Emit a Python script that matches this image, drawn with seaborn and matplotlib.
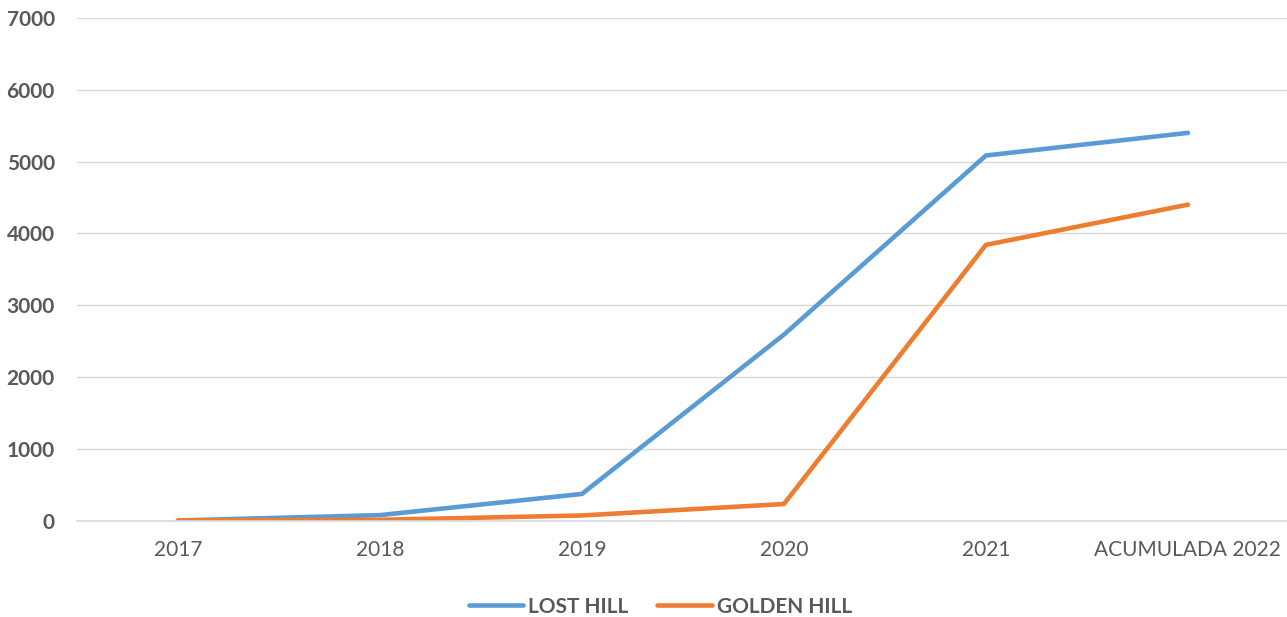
import pandas as pd
import numpy as np
import seaborn as sns
import matplotlib.pyplot as plt

years = ['2017', '2018', '2019', '2020', '2021', 'ACUMULADA 2022']
lost_hill = [0, 75, 370, 2590, 5085, 5400]
golden_hill = [0, 10, 70, 230, 3840, 4400]

sns.set_theme(style="white")
plt.rcParams['font.family'] = ['Lato', 'DejaVu Sans']

df = pd.DataFrame({
    'year': years * 2,
    'value': lost_hill + golden_hill,
    'serie': ['LOST HILL'] * len(years) + ['GOLDEN HILL'] * len(years),
})

fig = plt.figure(figsize=(12.87, 6.17), dpi=100)
ax = fig.add_axes([0.0598, 0.1564, 0.9417, 0.8144])

sns.lineplot(data=df, x='year', y='value', hue='serie', sort=False,
             palette={'LOST HILL': '#5B9BD5', 'GOLDEN HILL': '#ED7D31'},
             linewidth=3.3, ax=ax, legend=True,
             solid_capstyle='round', solid_joinstyle='round')

ax.set_xlim(-0.5, 5.5)
ax.set_ylim(0, 7000)
ax.set_yticks(np.arange(0, 7001, 1000))
ax.yaxis.grid(True, color='#D9D9D9', linewidth=1)
ax.xaxis.grid(False)
for s in ['top', 'right', 'left']:
    ax.spines[s].set_visible(False)
ax.spines['bottom'].set_color('#D9D9D9')
ax.set_xlabel('')
ax.set_ylabel('')
ax.tick_params(axis='both', length=0, colors='#595959')
ax.tick_params(axis='y', labelsize=15, pad=16)
ax.tick_params(axis='x', labelsize=15, pad=14)
for t in ax.get_yticklabels():
    t.set_fontweight('bold')

ax.get_legend().remove()
handles, labels = ax.get_legend_handles_labels()
for h in handles:
    h.set_solid_capstyle('round')
leg = fig.legend(handles, labels, loc='lower center', bbox_to_anchor=(0.513, -0.03),
                 ncol=2, frameon=False, fontsize=15, handlelength=2.6,
                 columnspacing=1.4, handletextpad=0.25)
for t in leg.get_texts():
    t.set_fontweight('bold')
    t.set_color('#595959')

fig.savefig('out.png', dpi=100)
